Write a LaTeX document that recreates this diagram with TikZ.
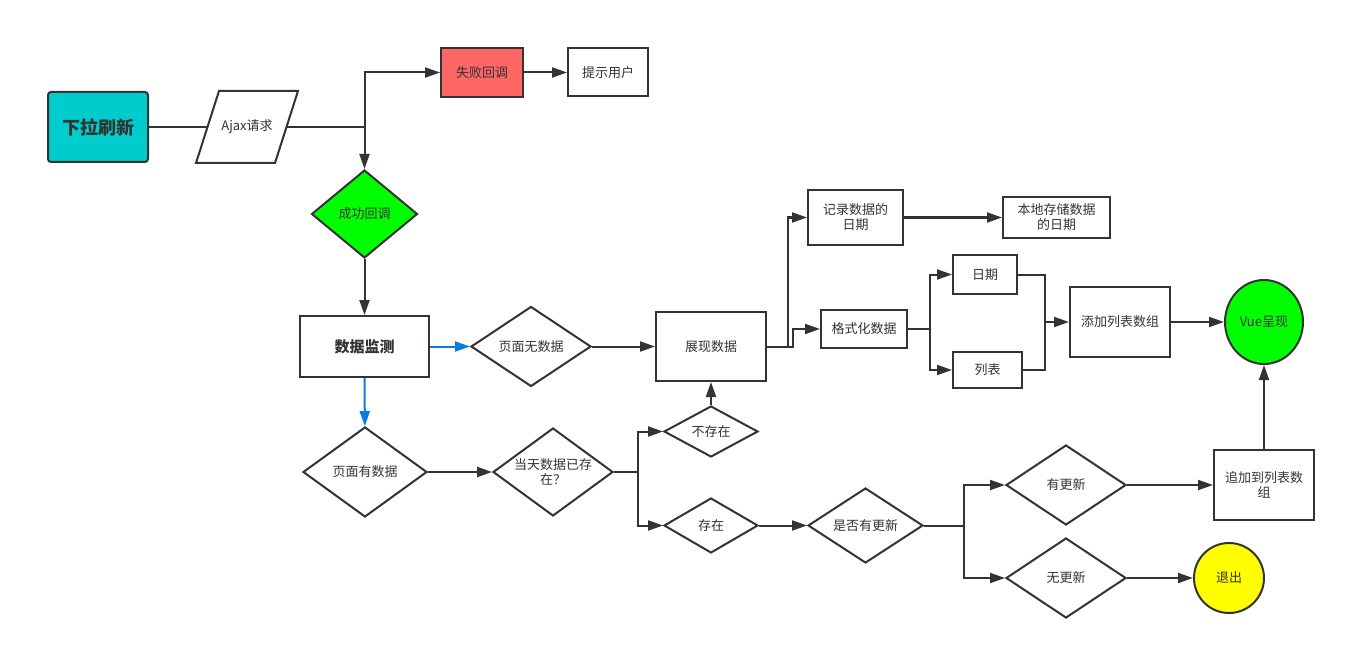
\documentclass[tikz,border=0pt]{standalone}
\usepackage{fontspec}
\setmainfont{Noto Sans CJK SC}
\usetikzlibrary{shapes.geometric,arrows.meta}
\definecolor{linegray}{HTML}{333333}
\definecolor{tealfill}{HTML}{00CCCC}
\definecolor{redfill}{HTML}{FF6666}
\definecolor{greenfill}{HTML}{00FF00}
\definecolor{yellowfill}{HTML}{FFFF00}
\definecolor{flowblue}{HTML}{0A7CE6}
\begin{document}
\begin{tikzpicture}[x=1pt, y=-1pt, line width=2pt, color=linegray, >={Triangle[length=15pt,width=10pt]},
                    font=\fontsize{13}{15}\selectfont,
                    box/.style={rectangle,draw,fill=white,align=center,inner sep=2pt},
                    decision/.style={diamond,draw,fill=white,align=center,inner sep=0pt}]
  \useasboundingbox (0,0) rectangle (1345,650);

  \node[box, rounded corners=3pt, fill=tealfill, minimum width=100pt, minimum height=70pt,
        font=\fontsize{18}{22}\selectfont\bfseries] (refresh) at (98,127) {下拉刷新};
  \node[minimum width=77pt, minimum height=70pt, inner sep=0pt] (ajax) at (247,127) {Ajax请求};
  \draw ([xshift=-11.5pt]ajax.south west) -- ([xshift=11.5pt]ajax.north west)
     -- ([xshift=11.5pt]ajax.north east) -- ([xshift=-11.5pt]ajax.south east) -- cycle;
  \node[box, fill=redfill, minimum width=82pt, minimum height=49pt] (fail) at (482,72.5) {失败回调};
  \node[box, minimum width=80pt, minimum height=48pt] (notify) at (608,72.5) {提示用户};
  \node[decision, fill=greenfill, minimum width=106pt, minimum height=88pt, aspect=1.2] (success) at (364.5,214) {成功回调};
  \node[box, minimum width=129pt, minimum height=61pt,
        font=\fontsize{15}{18}\selectfont\bfseries] (monitor) at (364.5,346.5) {数据监测};
  \node[decision, minimum width=120pt, minimum height=80pt, aspect=1.5] (nodata) at (531,346.5) {页面无数据};
  \node[box, minimum width=110pt, minimum height=69pt] (show) at (711,346.5) {展现数据};
  \node[decision, minimum width=124pt, minimum height=90pt, aspect=1.38] (hasdata) at (365,472) {页面有数据};
  \node[decision, minimum width=120pt, minimum height=88pt, aspect=1.36] (today) at (553,472) {当天数据已存\\在？};
  \node[decision, minimum width=94pt, minimum height=51pt, aspect=1.84] (absent) at (711,431.5) {不存在};
  \node[decision, minimum width=94pt, minimum height=55pt, aspect=1.7] (present) at (711,525.5) {存在};
  \node[decision, minimum width=115pt, minimum height=75pt, aspect=1.53] (check) at (865.5,525.5) {是否有更新};
  \node[decision, minimum width=120pt, minimum height=80pt, aspect=1.5] (updated) at (1066,485) {有更新};
  \node[decision, minimum width=120pt, minimum height=80pt, aspect=1.5] (unchanged) at (1066,578) {无更新};
  \node[box, minimum width=100pt, minimum height=70pt] (append) at (1264,485) {追加到列表数\\组};
  \node[ellipse, draw, fill=greenfill, minimum width=78pt, minimum height=84pt, inner sep=0pt] (vue) at (1264,322) {Vue呈现};
  \node[circle, draw, fill=yellowfill, minimum size=70pt, inner sep=0pt] (quit) at (1229,578) {退出};
  \node[box, minimum width=95pt, minimum height=54pt] (record) at (855.5,217.5) {记录数据的\\日期};
  \node[box, minimum width=107pt, minimum height=40pt] (store) at (1056.5,217.5) {本地存储数据\\的日期};
  \node[box, minimum width=86pt, minimum height=38pt] (format) at (864,329) {格式化数据};
  \node[box, minimum width=64pt, minimum height=39pt] (date) at (985,274.5) {日期};
  \node[box, minimum width=69pt, minimum height=36pt] (list) at (987.5,370) {列表};
  \node[box, minimum width=100pt, minimum height=70pt] (add) at (1120,322) {添加列表数组};

  \coordinate (split ajax) at (364.5,127);
  \coordinate (split show) at (788,346.5);
  \coordinate (jog show) at (793,346.5);
  \coordinate (split format) at (930,329);
  \coordinate (merge add) at (1045,322);
  \coordinate (split today) at (638,472);
  \coordinate (split check) at (964,525.5);

  \path[->]
    (fail) edge (notify)
    (success) edge (monitor)
    (nodata) edge (show)
    (hasdata) edge (today)
    (absent) edge (show)
    (present) edge (check)
    (record) edge (store)
    (updated) edge (append)
    (append) edge (vue)
    (unchanged) edge (quit)
    (add) edge (vue);
  \path[->, flowblue]
    (monitor) edge (nodata)
    (monitor) edge (hasdata);

  \draw (refresh) -- (ajax);
  \draw[->] (ajax) -- (split ajax) -- (success);
  \draw[->] (split ajax) |- (fail);
  \draw (show) -- (split show);
  \draw[->] (split show) |- (record);
  \draw[->] (split show) -- (jog show) |- (format);
  \draw (format) -- (split format);
  \draw[->] (split format) |- (date);
  \draw[->] (split format) |- (list);
  \draw (date) -| (merge add);
  \draw (list) -| (merge add);
  \draw[->] (merge add) -- (add);
  \draw (today) -- (split today);
  \draw[->] (split today) |- (absent);
  \draw[->] (split today) |- (present);
  \draw (check) -- (split check);
  \draw[->] (split check) |- (updated);
  \draw[->] (split check) |- (unchanged);
\end{tikzpicture}
\end{document}
